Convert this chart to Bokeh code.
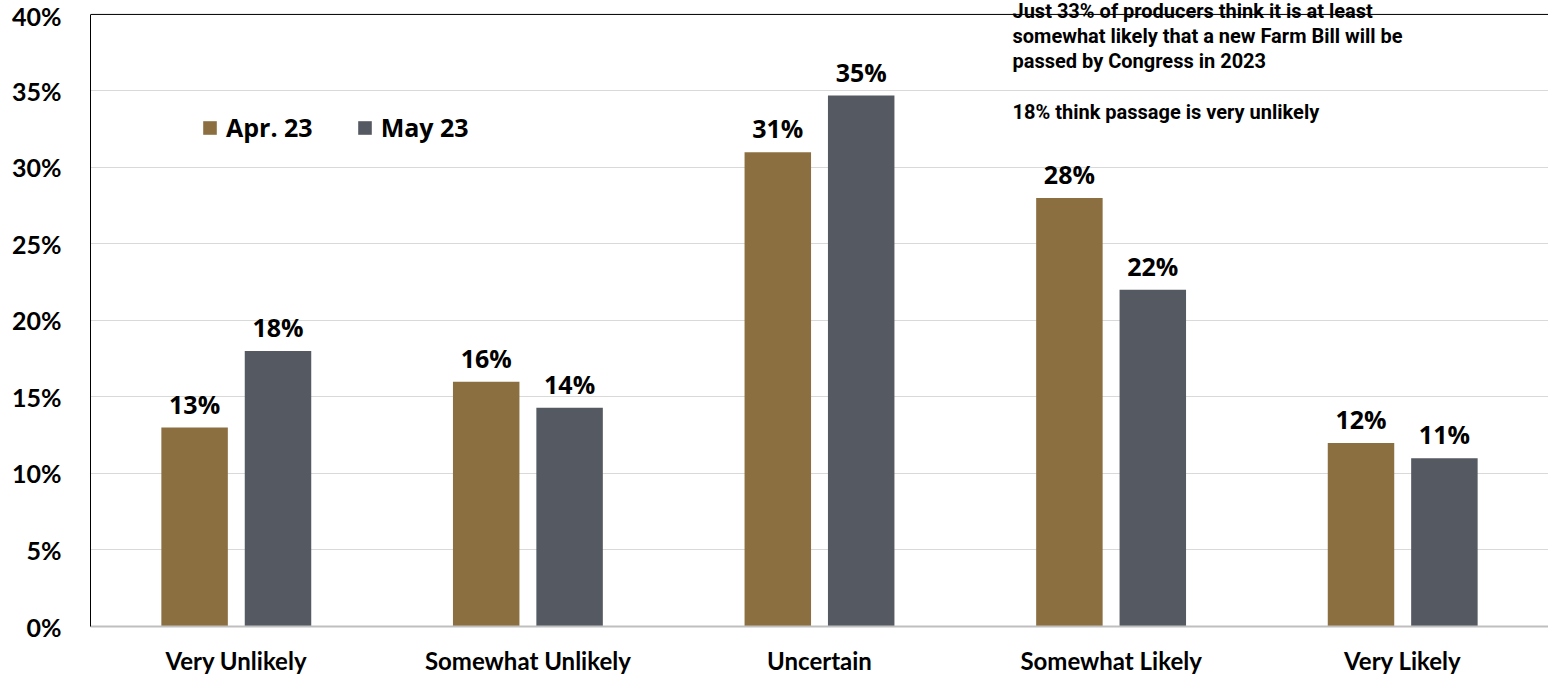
from bokeh.plotting import figure
from bokeh.models import (ColumnDataSource, FactorRange, Range1d, Legend, LegendItem,
                          Span, Label, PrintfTickFormatter, FixedTicker)
from bokeh.transform import dodge
from bokeh.embed import file_html
from bokeh.resources import INLINE
from bokeh.core.properties import value

categories = ["Very Unlikely", "Somewhat Unlikely", "Uncertain", "Somewhat Likely", "Very Likely"]
apr_values = [13, 16, 31, 28, 12]
may_values = [18, 14.3, 34.7, 22, 11]
series_names = ["Apr. 23", "May 23"]
y_ticks = [0, 5, 10, 15, 20, 25, 30, 35, 40]
note_lines = [
    "Just 33% of producers think it is at least",
    "somewhat likely that a new Farm Bill will be",
    "passed by Congress in 2023",
    "18% think passage is very unlikely",
]

APR_COLOR = "#8C6F40"
MAY_COLOR = "#555A62"

src = ColumnDataSource(data=dict(
    cat=categories,
    apr=apr_values,
    may=may_values,
    apr_lbl=[f"{round(v)}%" for v in apr_values],
    may_lbl=[f"{round(v)}%" for v in may_values],
))

p = figure(
    x_range=FactorRange(*categories, range_padding=0),
    y_range=Range1d(0, 40.91),
    width=1548, height=677,
    output_backend="svg", toolbar_location=None,
    min_border_left=90, min_border_right=0, min_border_top=0, min_border_bottom=48,
)
p.outline_line_color = None
p.background_fill_color = "white"

BW = 0.228
OFF = 0.143
r_apr = p.vbar(x=dodge("cat", -OFF, range=p.x_range), top="apr", width=BW, source=src,
               fill_color=APR_COLOR, line_color=None)
r_may = p.vbar(x=dodge("cat", OFF, range=p.x_range), top="may", width=BW, source=src,
               fill_color=MAY_COLOR, line_color=None)

label_font = value("Open Sans")
for col, lbl, off in (("apr", "apr_lbl", -OFF), ("may", "may_lbl", OFF)):
    p.text(x=dodge("cat", off, range=p.x_range), y=col, text=lbl, source=src,
           text_align="center", text_baseline="bottom", y_offset=-7,
           text_font=label_font, text_font_style="bold", text_font_size="25px",
           text_color="black")

# axes
p.yaxis.ticker = FixedTicker(ticks=y_ticks)
p.yaxis.formatter = PrintfTickFormatter(format="%d%%")
p.yaxis.bounds = (0, 40)
p.yaxis.major_tick_out = 0
p.yaxis.major_tick_in = 0
p.yaxis.minor_tick_out = 0
p.yaxis.minor_tick_in = 0
p.yaxis.axis_line_color = "black"
p.yaxis.axis_line_width = 1
p.yaxis.major_label_standoff = 29
p.yaxis.major_label_text_font = "Lato"
p.yaxis.major_label_text_font_style = "bold"
p.yaxis.major_label_text_font_size = "25px"
p.yaxis.major_label_text_color = "black"

p.xaxis.major_tick_out = 0
p.xaxis.major_tick_in = 0
p.xaxis.axis_line_color = "#BFBFBF"
p.xaxis.axis_line_width = 2
p.xaxis.major_label_standoff = 19
p.xaxis.major_label_text_font = "Lato"
p.xaxis.major_label_text_font_style = "bold"
p.xaxis.major_label_text_font_size = "24px"
p.xaxis.major_label_text_color = "black"

p.xgrid.grid_line_color = None
p.ygrid.grid_line_color = "#D9D9D9"
p.ygrid.grid_line_width = 1

p.add_layout(Span(location=40, dimension="width", line_color="black", line_width=1))

# legend
legend = Legend(items=[LegendItem(label=series_names[0], renderers=[r_apr]),
                       LegendItem(label=series_names[1], renderers=[r_may])],
                location=(111, 482), orientation="horizontal",
                border_line_color=None, background_fill_alpha=0,
                padding=0, margin=0, spacing=43, label_standoff=8,
                glyph_width=17, glyph_height=17, label_height=17,
                label_text_font="Open Sans", label_text_font_style="bold",
                label_text_font_size="25px", label_text_color="black")
p.add_layout(legend)

# annotation text (screen units from frame bottom-left)
note_y = [616, 591, 566, 515]
for txt, yy in zip(note_lines, note_y):
    p.add_layout(Label(x=922, y=yy, x_units="screen", y_units="screen", text=txt,
                       text_baseline="middle", text_align="left",
                       text_font="Roboto", text_font_style="bold",
                       text_font_size="20px", text_color="black"))

open("out.html", "w").write(file_html(p, INLINE))
